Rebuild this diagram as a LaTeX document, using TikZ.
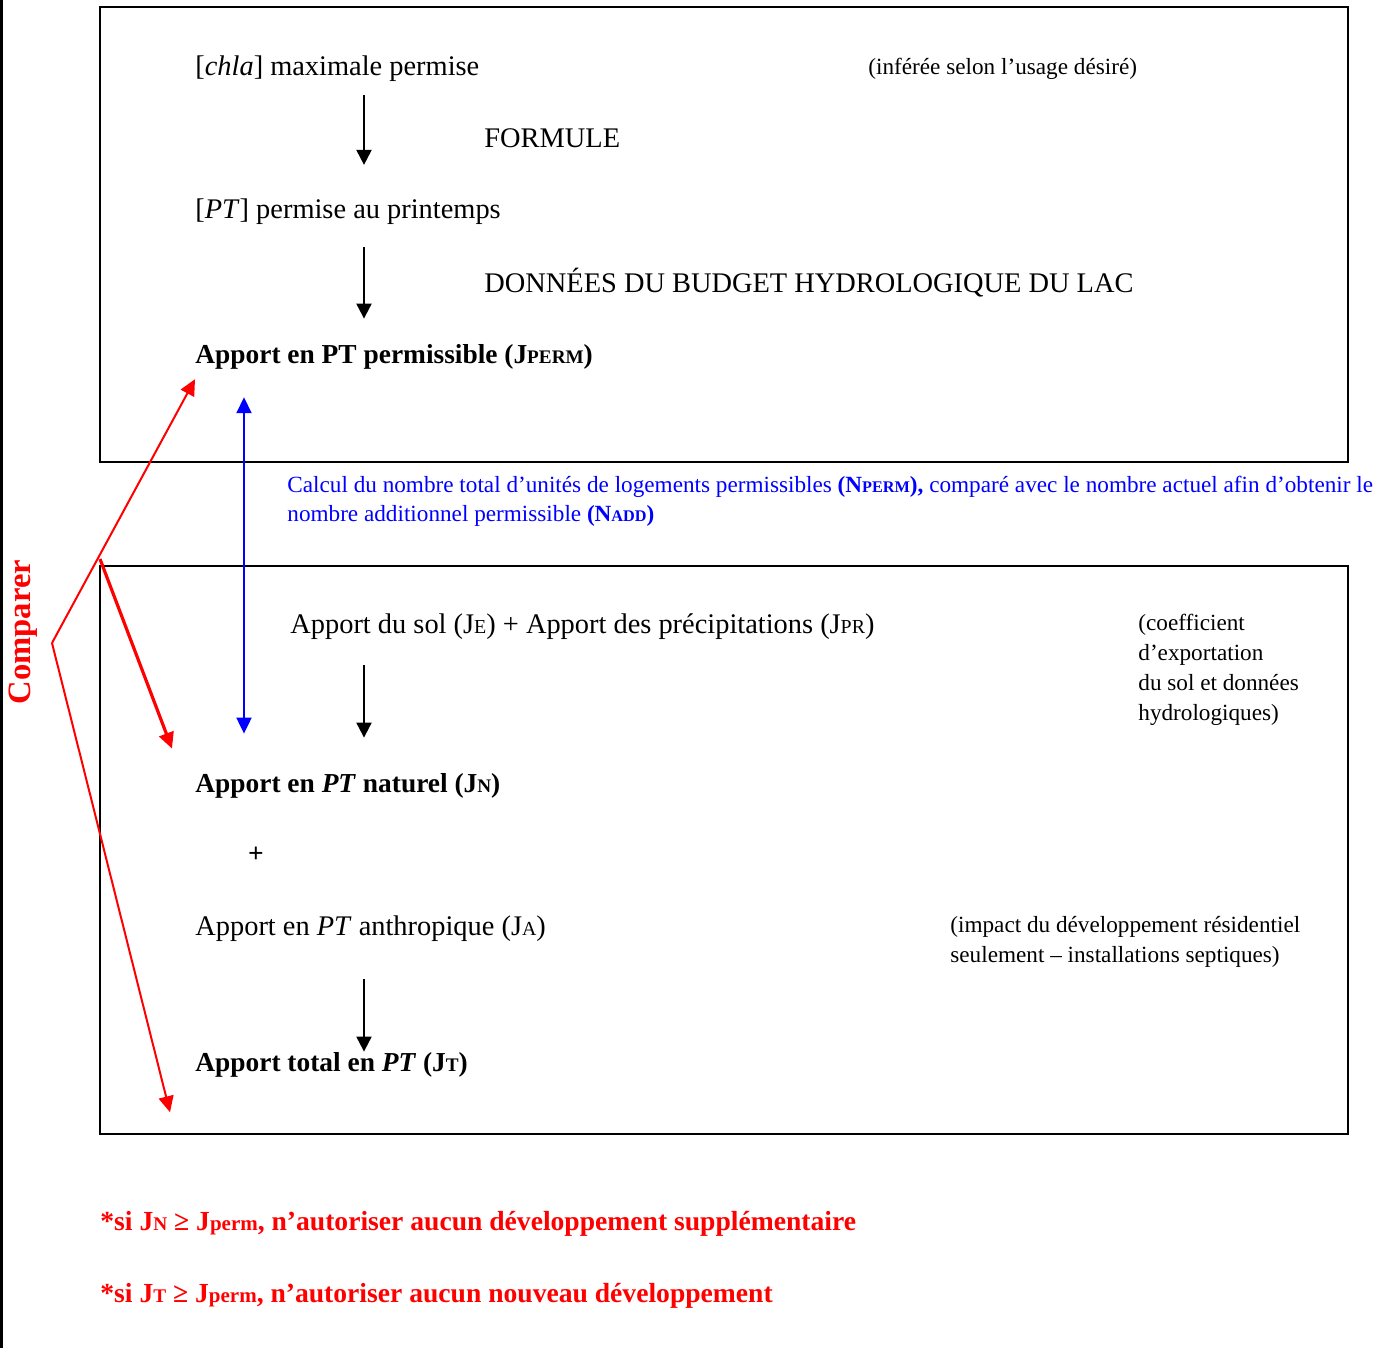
\documentclass[tikz,border=0pt]{standalone}
\usepackage{fontspec}
\setmainfont{Liberation Serif}
\usetikzlibrary{arrows.meta,positioning,calc}

\definecolor{rouge}{RGB}{255,0,0}
\definecolor{bleu}{RGB}{0,0,255}

% small capitals imitated by smaller upper-case letters
\makeatletter
\newcommand\pc[1]{{\@tempdima=\f@size pt\@tempdima=0.7\@tempdima\fontsize{\strip@pt\@tempdima}{\strip@pt\@tempdima}\selectfont #1}}
\makeatother

\begin{document}
\begin{tikzpicture}
[
	x	= 0.5pt,	% one unit is one pixel of the page
	y	= -0.5pt,	% the y axis goes down, as on the page
	%
	%
	% ----------- options for the texts --------------
	every node/.style =
	{
		inner sep	= 0pt,
		anchor		= base west
	},
	%
	texte/.style =
	{
		font	= \fontsize{14.2}{17}\selectfont
	},
	note/.style =
	{
		font	= \fontsize{11.6}{15}\selectfont,
		align	= left
	},
	gras/.style =
	{
		font	= \bfseries\fontsize{13.7}{17}\selectfont
	},
	calcul/.style =
	{
		bleu,
		font	= \fontsize{11.6}{14.5}\selectfont,
		align	= left
	},
	regle/.style =
	{
		rouge,
		font	= \bfseries\fontsize{13.8}{16}\selectfont
	},
	%
	% ----------- options for the frames --------------
	cadre/.style =
	{
		draw,
		line width	= 1pt,
		anchor		= north west,
		minimum width	= 624pt,
		outer sep	= 0pt
	},
	%
	% ----------- options for the arrows --------------
	flow/.style =
	{
		draw,
		line width	= 1pt,
		-{Triangle[width=7.5pt,length=7.5pt]}
	},
	lien/.style =
	{
		draw,
		bleu,
		line width	= 1pt,
		{Triangle[width=7.5pt,length=8pt]}-{Triangle[width=7.5pt,length=8pt]}
	},
	compare/.style =
	{
		draw,
		rouge,
		line width	= 1pt,
		-{Triangle[width=7.5pt,length=8pt]}
	}
]

\useasboundingbox (0,0) rectangle (1390,1348);

% left edge
\draw[line width = 1.5pt] (1.5,0) -- (1.5,1348);

% frames
\node[cadre, minimum height = 227.5pt] (haut) at (100,7) {};
\node[cadre, minimum height = 284pt] (bas) at (100,566) {};

% upper frame
\node[texte] (chla) at (195,76) {[\textit{chla}] maximale permise};
\node[note] (usage) at (868,75) {(inférée selon l’usage désiré)};
\node[texte] (formule) at (484,148) {FORMULE};
\node[texte] (pt) at (195,219) {[\textit{PT}] permise au printemps};
\node[texte] (budget) at (484,292) {DONNÉES DU BUDGET HYDROLOGIQUE DU LAC};
\node[gras] (jperm) at (195,363) {Apport en PT permissible (J\pc{PERM})};

% between the frames
\node[calcul, anchor = north west] (nperm) at (287,476)
	{Calcul du nombre total d’unités de logements permissibles \textbf{(N\pc{PERM}),} comparé avec le nombre actuel afin d’obtenir le\\
	 nombre additionnel permissible \textbf{(N\pc{ADD})}};

% lower frame
\node[texte] (sol) at (290,633) {Apport du sol (J\pc{E}) + Apport des précipitations (J\pc{PR})};
\node[note, anchor = north west] (coef) at (1138,614) {(coefficient\\d’exportation\\du sol et données\\hydrologiques)};
\node[gras] (jn) at (195,792) {Apport en \textit{PT} naturel (J\pc{N})};
\node[gras, anchor = center] (plus) at (256,855) {+};
\node[texte] (ja) at (195,935) {Apport en \textit{PT} anthropique (J\pc{A})};
\node[note, anchor = north west] (impact) at (950,916) {(impact du développement résidentiel\\seulement – installations septiques)};
\node[gras] (jt) at (195,1071) {Apport total en \textit{PT} (J\pc{T})};

% rules
\node[regle] (regle1) at (100,1230) {*si J\pc{N} ≥ J{\fontsize{10.5}{10}\selectfont perm}, n’autoriser aucun développement supplémentaire};
\node[regle] (regle2) at (100,1302) {*si J\pc{T} ≥ J{\fontsize{10.5}{10}\selectfont perm}, n’autoriser aucun nouveau développement};

\node[rouge, font = \bfseries\fontsize{16.3}{18}\selectfont, rotate = 90, anchor = center] (comparer) at (23,632) {Comparer};

% arrows
\coordinate (col) at (364,0);
\coordinate (col2) at (244,0);
\coordinate (pivot) at (52,643);

\draw[flow, shorten < = 6.5pt, shorten > = 17pt] (chla.south -| col) -- (pt.north -| col);
\draw[flow, shorten < = 11pt, shorten > = 12.5pt] (pt.south -| col) -- (jperm.north -| col);
\draw[flow, shorten < = 13pt, shorten > = 17.5pt] (sol.south -| col) -- (jn.north -| col);
\draw[flow, shorten < = 19pt, shorten > = 0pt] (ja.south -| col) -- (jt.north -| col);

\draw[lien, shorten < = 14pt, shorten > = 19.5pt] (jperm.south -| col2) -- (jn.north -| col2);

\draw[compare] (pivot) -- ($(jperm.south west)+(0,10)$);
\draw[compare] (pivot) -- ($(jt.south west)+(-25,35)$);
\draw[compare, line width = 1.6pt] ($(bas.north west)+(0,-7)$) -- ($(jn.north west)+(-23,-24)$);

\end{tikzpicture}
\end{document}
